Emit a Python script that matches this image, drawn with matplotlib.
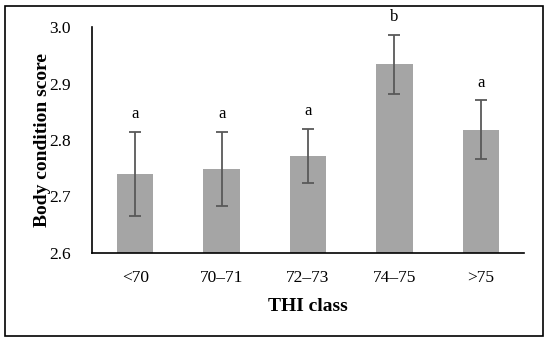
import matplotlib
matplotlib.use('Agg')
import matplotlib.pyplot as plt
from matplotlib.patches import Rectangle
import numpy as np

classes = ['<70', '70\u201371', '72\u201373', '74\u201375', '>75']
means = [2.740, 2.749, 2.772, 2.934, 2.818]
errs = [0.075, 0.065, 0.048, 0.052, 0.052]
letters = ['a', 'a', 'a', 'b', 'a']

plt.rcParams['font.family'] = ['Liberation Serif', 'DejaVu Serif']

fig = plt.figure(figsize=(5.5, 3.43), dpi=100)
ax = fig.add_axes([92/550, 1 - 253/343, 432/550, 226/343])

x = np.arange(len(classes))
ax.bar(x, means, width=0.42, color='#a5a5a5', zorder=2)
ax.errorbar(x, means, yerr=errs, fmt='none', ecolor='#595959', elinewidth=1.3,
            capsize=4, capthick=1.3, zorder=3)
for xi, m, e, l in zip(x, means, errs, letters):
    ax.text(xi, m + e + 0.017, l, ha='center', va='bottom', fontsize=12)

ax.set_xlim(-0.5, len(classes) - 0.5)
ax.set_ylim(2.6, 3.0)
ax.set_yticks(np.arange(2.6, 3.01, 0.1))
ax.set_yticklabels([f'{v:.1f}' for v in np.arange(2.6, 3.01, 0.1)], fontsize=12.5)
ax.set_xticks(x)
ax.set_xticklabels(classes, fontsize=12.5)
ax.tick_params(length=0, pad=12)
ax.tick_params(axis='y', pad=15)
for s in ['top', 'right']:
    ax.spines[s].set_visible(False)
ax.spines['left'].set_linewidth(1.2)
ax.spines['bottom'].set_linewidth(1.2)
ax.set_ylabel('Body condition score', fontsize=14, fontweight='bold')
ax.yaxis.set_label_coords(-0.094, 0.5)
ax.set_xlabel('THI class', fontsize=14, fontweight='bold', labelpad=9)

fig.patches.append(Rectangle((5/550, 1 - 336/343), 538/550, 330/343, transform=fig.transFigure,
                             fill=False, edgecolor='black', linewidth=1.2))

fig.savefig('out.png', dpi=100)
